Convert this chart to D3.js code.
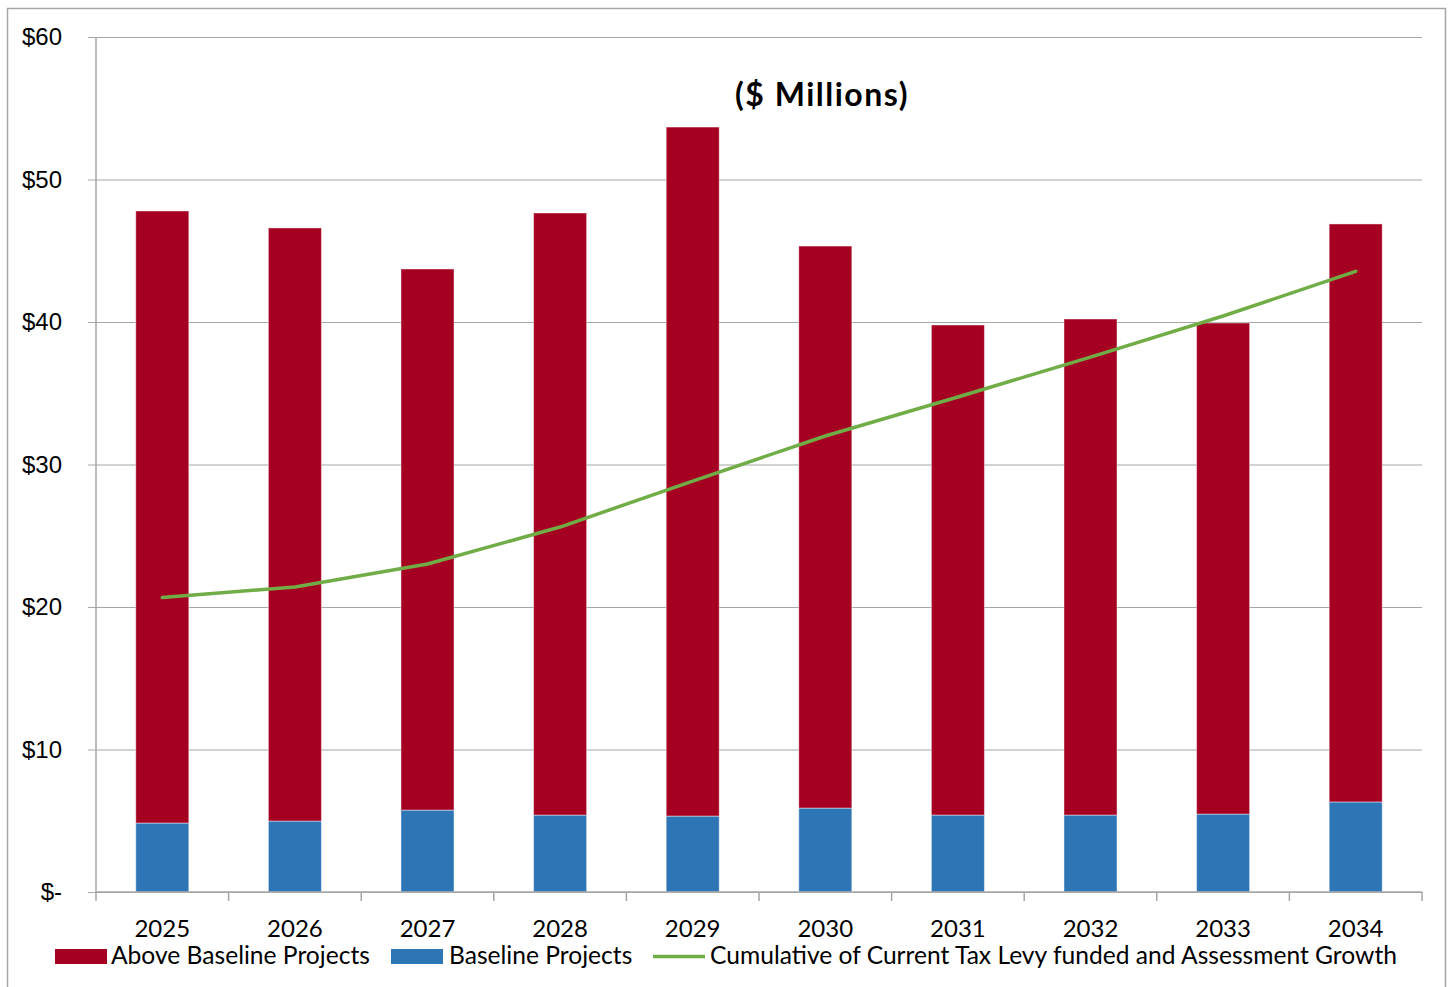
<!DOCTYPE html>
<html>
<head>
<meta charset="utf-8">
<script src="https://cdn.jsdelivr.net/npm/d3@7"></script>
<style>
  html, body { margin: 0; padding: 0; background: #fff; }
  svg { display: block; font-family: Lato, "Open Sans", sans-serif; }
</style>
</head>
<body>
<svg id="chart" width="1448" height="987"></svg>
<script>
// Capital funding by year, $ millions
const years = ["2025", "2026", "2027", "2028", "2029", "2030", "2031", "2032", "2033", "2034"];
const baseline = [4.84, 4.98, 5.75, 5.40, 5.33, 5.89, 5.40, 5.40, 5.47, 6.32];
const aboveBaseline = [42.95, 41.62, 37.97, 42.25, 48.35, 39.44, 34.39, 34.81, 34.46, 40.56];
const cumulativeLevy = [20.67, 21.40, 23.02, 25.61, 28.84, 32.00, 34.74, 37.54, 40.42, 43.55];
const yTicks = [0, 10, 20, 30, 40, 50, 60];
const yTickLabels = ["$-", "$10", "$20", "$30", "$40", "$50", "$60"];
const legendLabels = ["Above Baseline Projects", "Baseline Projects", "Cumulative of Current Tax Levy funded and Assessment Growth"];

const colors = { above: "#A50021", base: "#2E75B6", line: "#70AD47", grid: "#A6A6A6" };

const svg = d3.select("#chart");

// outer frame
svg.append("rect")
  .attr("x", 7.5).attr("y", 8.5).attr("width", 1438).attr("height", 990)
  .attr("fill", "none").attr("stroke", "#A6A6A6").attr("stroke-width", 1.5);

const plot = { left: 96, right: 1422, top: 37, bottom: 892 };

const x = d3.scaleBand().domain(years).range([plot.left, plot.right]).paddingInner(0.6).paddingOuter(0.3);
const xBand = d3.scaleBand().domain(years).range([plot.left, plot.right]);
const y = d3.scaleLinear().domain([0, 60]).range([plot.bottom, plot.top]);

// horizontal gridlines and y labels
const yAxis = d3.axisLeft(y).tickValues(yTicks)
  .tickSize(-(plot.right - plot.left + 8))
  .tickFormat((d, i) => yTickLabels[i]);
const gy = svg.append("g").attr("transform", `translate(${plot.left - 8},0)`).call(yAxis);
gy.select(".domain").remove();
gy.selectAll(".tick line").attr("stroke", colors.grid).attr("stroke-width", 1.2);
gy.selectAll(".tick text")
  .attr("x", -26).attr("dy", "0.32em")
  .attr("fill", "#000").style("font-size", "24px");

// vertical axis line
svg.append("line")
  .attr("x1", plot.left).attr("x2", plot.left)
  .attr("y1", plot.top).attr("y2", plot.bottom)
  .attr("stroke", colors.grid).attr("stroke-width", 1.5);

// stacked bars
const stack = years.map((yr, i) => ({ year: yr, base: baseline[i], above: aboveBaseline[i] }));
const bars = svg.append("g");
bars.selectAll("rect.base").data(stack).join("rect")
  .attr("class", "base")
  .attr("x", d => x(d.year)).attr("width", x.bandwidth())
  .attr("y", d => y(d.base)).attr("height", d => y(0) - y(d.base))
  .attr("fill", colors.base).attr("stroke", "#fff").attr("stroke-opacity", 0.45).attr("stroke-width", 1);
bars.selectAll("rect.above").data(stack).join("rect")
  .attr("class", "above")
  .attr("x", d => x(d.year)).attr("width", x.bandwidth())
  .attr("y", d => y(d.base + d.above)).attr("height", d => y(d.base) - y(d.base + d.above))
  .attr("fill", colors.above).attr("stroke", "#fff").attr("stroke-opacity", 0.45).attr("stroke-width", 1);

// x axis with category boundary ticks
const xAxisLine = svg.append("g");
xAxisLine.append("line")
  .attr("x1", plot.left).attr("x2", plot.right)
  .attr("y1", plot.bottom).attr("y2", plot.bottom)
  .attr("stroke", colors.grid).attr("stroke-width", 1.5);
const boundaries = years.map(yr => xBand(yr)).concat([plot.right]);
xAxisLine.selectAll("line.tk").data(boundaries).join("line")
  .attr("class", "tk")
  .attr("x1", d => d).attr("x2", d => d)
  .attr("y1", plot.bottom).attr("y2", plot.bottom + 9)
  .attr("stroke", colors.grid).attr("stroke-width", 1.5);
svg.append("g").selectAll("text").data(years).join("text")
  .attr("x", d => xBand(d) + xBand.bandwidth() / 2)
  .attr("y", 937)
  .attr("text-anchor", "middle")
  .style("font-size", "24px")
  .text(d => d);

// cumulative line
const line = d3.line()
  .x((d, i) => x(years[i]) + x.bandwidth() / 2)
  .y(d => y(d));
svg.append("path")
  .datum(cumulativeLevy)
  .attr("d", line)
  .attr("fill", "none")
  .attr("stroke", colors.line)
  .attr("stroke-width", 3.5)
  .attr("stroke-linecap", "round")
  .attr("stroke-linejoin", "round");

// title
svg.append("text")
  .attr("x", 822).attr("y", 106)
  .attr("text-anchor", "middle")
  .style("font-size", "32px").style("font-weight", "bold")
  .style("letter-spacing", "1.5px")
  .text("($ Millions)");

// legend
const lg = svg.append("g").style("font-size", "24.6px");
lg.append("rect").attr("x", 55).attr("y", 949).attr("width", 52).attr("height", 15).attr("fill", colors.above);
lg.append("text").attr("x", 111).attr("y", 964).text(legendLabels[0]);
lg.append("rect").attr("x", 391).attr("y", 949).attr("width", 52).attr("height", 15).attr("fill", colors.base);
lg.append("text").attr("x", 449).attr("y", 964).text(legendLabels[1]);
lg.append("line").attr("x1", 653).attr("x2", 705).attr("y1", 956.5).attr("y2", 956.5)
  .attr("stroke", colors.line).attr("stroke-width", 3.5);
lg.append("text").attr("x", 710).attr("y", 964).text(legendLabels[2]);
</script>
</body>
</html>
